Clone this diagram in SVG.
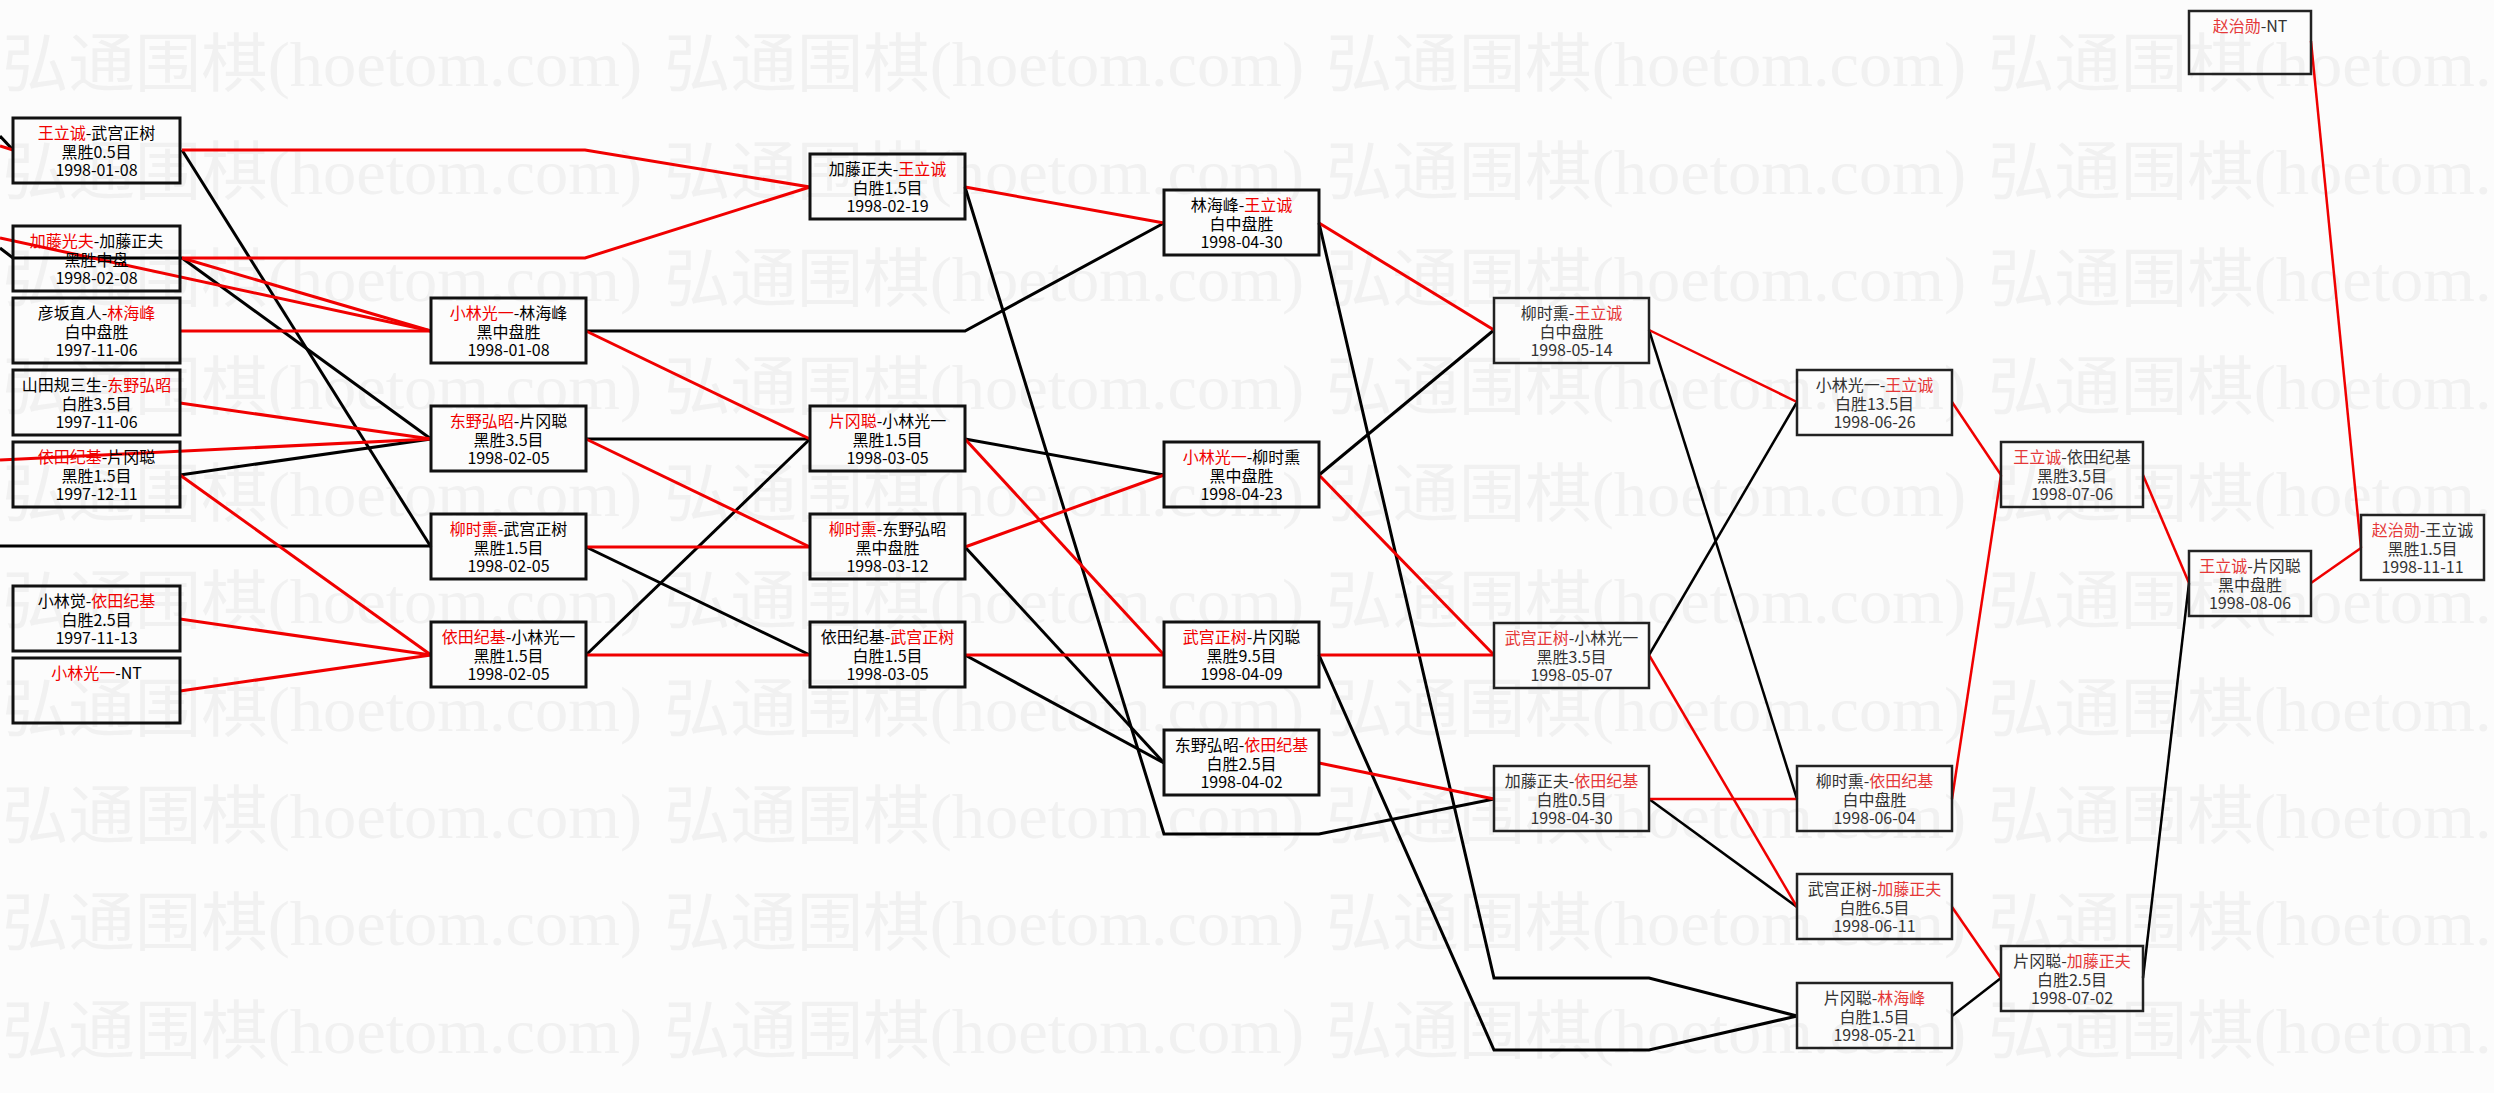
<svg xmlns="http://www.w3.org/2000/svg" xmlns:xlink="http://www.w3.org/1999/xlink" width="2494" height="1093" viewBox="0 0 2494 1093">
<style>
.bg{fill:#fcfcfc}
.wm{font-family:"Liberation Serif","Noto Sans CJK SC",serif;font-size:64px;fill:#f1f1f1}
.cn{fill:none;stroke-linejoin:miter}
.cr{stroke:#f00000}
.ck{stroke:#000}
.L .cn{stroke-width:3}
.R .cn{stroke-width:2.5}
.node rect{fill:none;stroke:#111}
.nl rect{stroke-width:3}
.nr rect{stroke-width:2.5;stroke:#222}
.node text{font-family:"Noto Sans CJK SC","Noto Sans",sans-serif;font-size:16px;text-anchor:middle}
.nl text{fill:#000}
.nr text{fill:#333}
.nl .r{fill:#f00000}
.nr .r{fill:#e53838}
</style>
<defs>
<g id="wmrow">
<text class="wm" x="2" textLength="640" lengthAdjust="spacingAndGlyphs">弘通围棋(hoetom.com)</text>
<text class="wm" x="664" textLength="640" lengthAdjust="spacingAndGlyphs">弘通围棋(hoetom.com)</text>
<text class="wm" x="1326" textLength="640" lengthAdjust="spacingAndGlyphs">弘通围棋(hoetom.com)</text>
<text class="wm" x="1988" textLength="640" lengthAdjust="spacingAndGlyphs">弘通围棋(hoetom.com)</text>
</g>
</defs>
<rect class="bg" x="0" y="0" width="2494" height="1093"/>
<g id="watermark">
<use xlink:href="#wmrow" y="86"/>
<use xlink:href="#wmrow" y="194"/>
<use xlink:href="#wmrow" y="301"/>
<use xlink:href="#wmrow" y="409"/>
<use xlink:href="#wmrow" y="516"/>
<use xlink:href="#wmrow" y="623"/>
<use xlink:href="#wmrow" y="731"/>
<use xlink:href="#wmrow" y="838"/>
<use xlink:href="#wmrow" y="945"/>
<use xlink:href="#wmrow" y="1053"/>
</g>
<g id="connectors">
<g class="L">
<polyline class="cn ck" points="0,136 13,150"/>
<polyline class="cn cr" points="0,146 13,150"/>
<polyline class="cn ck" points="0,248 13,258 182,258"/>
<polyline class="cn ck" points="182,150 431,547"/>
<polyline class="cn ck" points="182,258 431,439"/>
<polyline class="cn ck" points="180,475 431,439"/>
<polyline class="cn ck" points="0,546 431,546"/>
<polyline class="cn ck" points="586,331 965,331 1164,223"/>
<polyline class="cn ck" points="586,439 810,439"/>
<polyline class="cn ck" points="586,547 810,655"/>
<polyline class="cn ck" points="586,655 810,439"/>
<polyline class="cn ck" points="965,187 1164,834 1319,834 1494,799"/>
<polyline class="cn ck" points="965,439 1164,475"/>
<polyline class="cn ck" points="965,547 1164,763"/>
<polyline class="cn ck" points="965,655 1164,763"/>
<polyline class="cn ck" points="1319,223 1494,978 1649,978 1797,1016"/>
<polyline class="cn ck" points="1319,475 1494,330"/>
<polyline class="cn ck" points="1319,655 1494,1050 1649,1050 1797,1016"/>
<polyline class="cn cr" points="182,150 585,150 810,187"/>
<polyline class="cn cr" points="182,258 585,258 810,187"/>
<polyline class="cn cr" points="0,238 431,331"/>
<polyline class="cn cr" points="182,258 431,331"/>
<polyline class="cn cr" points="180,331 431,331"/>
<polyline class="cn cr" points="180,403 431,439"/>
<polyline class="cn cr" points="0,460 431,439"/>
<polyline class="cn cr" points="180,475 431,655"/>
<polyline class="cn cr" points="180,619 431,655"/>
<polyline class="cn cr" points="180,691 431,655"/>
<polyline class="cn cr" points="586,331 810,439"/>
<polyline class="cn cr" points="586,439 810,547"/>
<polyline class="cn cr" points="586,547 810,547"/>
<polyline class="cn cr" points="586,655 810,655"/>
<polyline class="cn cr" points="965,187 1164,223"/>
<polyline class="cn cr" points="965,439 1164,655"/>
<polyline class="cn cr" points="965,547 1164,475"/>
<polyline class="cn cr" points="965,655 1164,655"/>
<polyline class="cn cr" points="1319,223 1494,330"/>
<polyline class="cn cr" points="1319,475 1494,655"/>
<polyline class="cn cr" points="1319,655 1494,655"/>
<polyline class="cn cr" points="1319,763 1494,799"/>
</g>
<g class="R">
<polyline class="cn ck" points="1649,330 1797,799"/>
<polyline class="cn ck" points="1649,655 1797,402"/>
<polyline class="cn ck" points="1649,799 1797,907"/>
<polyline class="cn ck" points="1952,1016 2001,978"/>
<polyline class="cn ck" points="2143,978 2189,583"/>
<polyline class="cn cr" points="1649,330 1797,402"/>
<polyline class="cn cr" points="1649,655 1797,907"/>
<polyline class="cn cr" points="1649,799 1797,799"/>
<polyline class="cn cr" points="1952,402 2001,475"/>
<polyline class="cn cr" points="1952,799 2001,475"/>
<polyline class="cn cr" points="1952,907 2001,978"/>
<polyline class="cn cr" points="2143,475 2189,583"/>
<polyline class="cn cr" points="2311,583 2361,548"/>
<polyline class="cn cr" points="2311,41 2361,548"/>
</g>
</g>
<g id="nodes">
<g id="n-c1-1" class="node nl"><rect x="13" y="118" width="167" height="65"/>
<text x="96.5" y="139"><tspan class="r">王立诚</tspan>-武宫正树</text><text x="96.5" y="158">黑胜0.5目</text><text x="96.5" y="176">1998-01-08</text></g>
<g id="n-c1-2" class="node nl"><rect x="13" y="226" width="167" height="65"/>
<text x="96.5" y="247"><tspan class="r">加藤光夫</tspan>-加藤正夫</text><text x="96.5" y="266">黑胜中盘</text><text x="96.5" y="284">1998-02-08</text></g>
<g id="n-c1-3" class="node nl"><rect x="13" y="298" width="167" height="65"/>
<text x="96.5" y="319">彦坂直人-<tspan class="r">林海峰</tspan></text><text x="96.5" y="338">白中盘胜</text><text x="96.5" y="356">1997-11-06</text></g>
<g id="n-c1-4" class="node nl"><rect x="13" y="370" width="167" height="65"/>
<text x="96.5" y="391">山田规三生-<tspan class="r">东野弘昭</tspan></text><text x="96.5" y="410">白胜3.5目</text><text x="96.5" y="428">1997-11-06</text></g>
<g id="n-c1-5" class="node nl"><rect x="13" y="442" width="167" height="65"/>
<text x="96.5" y="463"><tspan class="r">依田纪基</tspan>-片冈聪</text><text x="96.5" y="482">黑胜1.5目</text><text x="96.5" y="500">1997-12-11</text></g>
<g id="n-c1-6" class="node nl"><rect x="13" y="586" width="167" height="65"/>
<text x="96.5" y="607">小林觉-<tspan class="r">依田纪基</tspan></text><text x="96.5" y="626">白胜2.5目</text><text x="96.5" y="644">1997-11-13</text></g>
<g id="n-c1-7" class="node nl"><rect x="13" y="658" width="167" height="65"/>
<text x="96.5" y="679"><tspan class="r">小林光一</tspan>-NT</text></g>
<g id="n-c2-1" class="node nl"><rect x="431" y="298" width="155" height="65"/>
<text x="508.5" y="319"><tspan class="r">小林光一</tspan>-林海峰</text><text x="508.5" y="338">黑中盘胜</text><text x="508.5" y="356">1998-01-08</text></g>
<g id="n-c2-2" class="node nl"><rect x="431" y="406" width="155" height="65"/>
<text x="508.5" y="427"><tspan class="r">东野弘昭</tspan>-片冈聪</text><text x="508.5" y="446">黑胜3.5目</text><text x="508.5" y="464">1998-02-05</text></g>
<g id="n-c2-3" class="node nl"><rect x="431" y="514" width="155" height="65"/>
<text x="508.5" y="535"><tspan class="r">柳时熏</tspan>-武宫正树</text><text x="508.5" y="554">黑胜1.5目</text><text x="508.5" y="572">1998-02-05</text></g>
<g id="n-c2-4" class="node nl"><rect x="431" y="622" width="155" height="65"/>
<text x="508.5" y="643"><tspan class="r">依田纪基</tspan>-小林光一</text><text x="508.5" y="662">黑胜1.5目</text><text x="508.5" y="680">1998-02-05</text></g>
<g id="n-c3-1" class="node nl"><rect x="810" y="154" width="155" height="65"/>
<text x="887.5" y="175">加藤正夫-<tspan class="r">王立诚</tspan></text><text x="887.5" y="194">白胜1.5目</text><text x="887.5" y="212">1998-02-19</text></g>
<g id="n-c3-2" class="node nl"><rect x="810" y="406" width="155" height="65"/>
<text x="887.5" y="427"><tspan class="r">片冈聪</tspan>-小林光一</text><text x="887.5" y="446">黑胜1.5目</text><text x="887.5" y="464">1998-03-05</text></g>
<g id="n-c3-3" class="node nl"><rect x="810" y="514" width="155" height="65"/>
<text x="887.5" y="535"><tspan class="r">柳时熏</tspan>-东野弘昭</text><text x="887.5" y="554">黑中盘胜</text><text x="887.5" y="572">1998-03-12</text></g>
<g id="n-c3-4" class="node nl"><rect x="810" y="622" width="155" height="65"/>
<text x="887.5" y="643">依田纪基-<tspan class="r">武宫正树</tspan></text><text x="887.5" y="662">白胜1.5目</text><text x="887.5" y="680">1998-03-05</text></g>
<g id="n-c4-1" class="node nl"><rect x="1164" y="190" width="155" height="65"/>
<text x="1241.5" y="211">林海峰-<tspan class="r">王立诚</tspan></text><text x="1241.5" y="230">白中盘胜</text><text x="1241.5" y="248">1998-04-30</text></g>
<g id="n-c4-2" class="node nl"><rect x="1164" y="442" width="155" height="65"/>
<text x="1241.5" y="463"><tspan class="r">小林光一</tspan>-柳时熏</text><text x="1241.5" y="482">黑中盘胜</text><text x="1241.5" y="500">1998-04-23</text></g>
<g id="n-c4-3" class="node nl"><rect x="1164" y="622" width="155" height="65"/>
<text x="1241.5" y="643"><tspan class="r">武宫正树</tspan>-片冈聪</text><text x="1241.5" y="662">黑胜9.5目</text><text x="1241.5" y="680">1998-04-09</text></g>
<g id="n-c4-4" class="node nl"><rect x="1164" y="730" width="155" height="65"/>
<text x="1241.5" y="751">东野弘昭-<tspan class="r">依田纪基</tspan></text><text x="1241.5" y="770">白胜2.5目</text><text x="1241.5" y="788">1998-04-02</text></g>
<g id="n-c5-1" class="node nr"><rect x="1494" y="298" width="155" height="65"/>
<text x="1571.5" y="319">柳时熏-<tspan class="r">王立诚</tspan></text><text x="1571.5" y="338">白中盘胜</text><text x="1571.5" y="356">1998-05-14</text></g>
<g id="n-c5-2" class="node nr"><rect x="1494" y="623" width="155" height="65"/>
<text x="1571.5" y="644"><tspan class="r">武宫正树</tspan>-小林光一</text><text x="1571.5" y="663">黑胜3.5目</text><text x="1571.5" y="681">1998-05-07</text></g>
<g id="n-c5-3" class="node nr"><rect x="1494" y="766" width="155" height="65"/>
<text x="1571.5" y="787">加藤正夫-<tspan class="r">依田纪基</tspan></text><text x="1571.5" y="806">白胜0.5目</text><text x="1571.5" y="824">1998-04-30</text></g>
<g id="n-c6-1" class="node nr"><rect x="1797" y="370" width="155" height="65"/>
<text x="1874.5" y="391">小林光一-<tspan class="r">王立诚</tspan></text><text x="1874.5" y="410">白胜13.5目</text><text x="1874.5" y="428">1998-06-26</text></g>
<g id="n-c6-2" class="node nr"><rect x="1797" y="766" width="155" height="65"/>
<text x="1874.5" y="787">柳时熏-<tspan class="r">依田纪基</tspan></text><text x="1874.5" y="806">白中盘胜</text><text x="1874.5" y="824">1998-06-04</text></g>
<g id="n-c6-3" class="node nr"><rect x="1797" y="874" width="155" height="65"/>
<text x="1874.5" y="895">武宫正树-<tspan class="r">加藤正夫</tspan></text><text x="1874.5" y="914">白胜6.5目</text><text x="1874.5" y="932">1998-06-11</text></g>
<g id="n-c6-4" class="node nr"><rect x="1797" y="983" width="155" height="65"/>
<text x="1874.5" y="1004">片冈聪-<tspan class="r">林海峰</tspan></text><text x="1874.5" y="1023">白胜1.5目</text><text x="1874.5" y="1041">1998-05-21</text></g>
<g id="n-c7-1" class="node nr"><rect x="2001" y="442" width="142" height="65"/>
<text x="2072" y="463"><tspan class="r">王立诚</tspan>-依田纪基</text><text x="2072" y="482">黑胜3.5目</text><text x="2072" y="500">1998-07-06</text></g>
<g id="n-c7-2" class="node nr"><rect x="2001" y="946" width="142" height="65"/>
<text x="2072" y="967">片冈聪-<tspan class="r">加藤正夫</tspan></text><text x="2072" y="986">白胜2.5目</text><text x="2072" y="1004">1998-07-02</text></g>
<g id="n-c8-1" class="node nr"><rect x="2189" y="11" width="122" height="63"/>
<text x="2250" y="32"><tspan class="r">赵治勋</tspan>-NT</text></g>
<g id="n-c8-2" class="node nr"><rect x="2189" y="551" width="122" height="65"/>
<text x="2250" y="572"><tspan class="r">王立诚</tspan>-片冈聪</text><text x="2250" y="591">黑中盘胜</text><text x="2250" y="609">1998-08-06</text></g>
<g id="n-c9-1" class="node nr"><rect x="2361" y="515" width="123" height="65"/>
<text x="2422.5" y="536"><tspan class="r">赵治勋</tspan>-王立诚</text><text x="2422.5" y="555">黑胜1.5目</text><text x="2422.5" y="573">1998-11-11</text></g>
</g>
</svg>
